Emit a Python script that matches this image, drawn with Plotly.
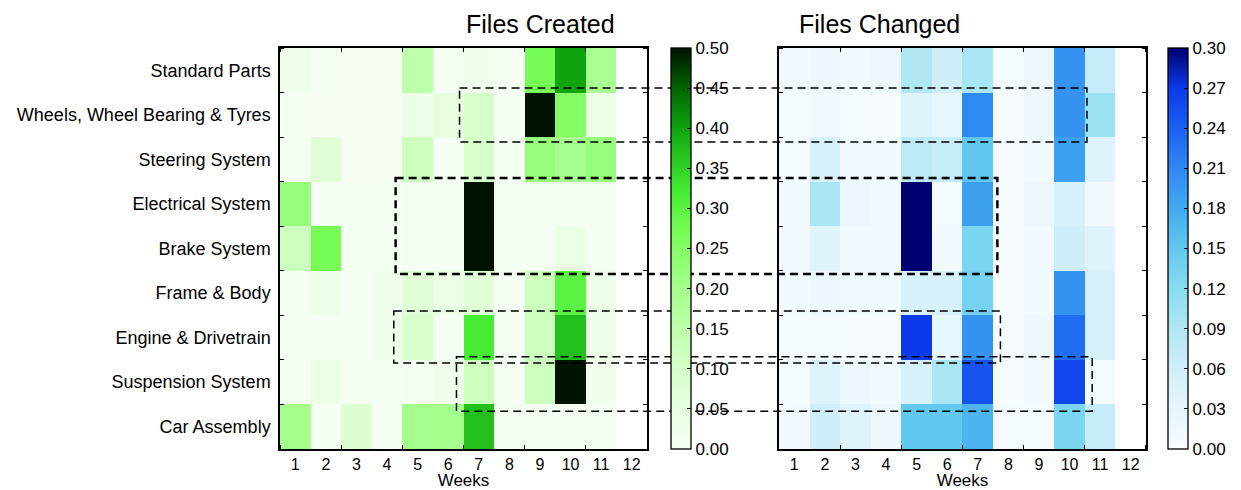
import plotly.graph_objects as go

weeks = list(range(1, 13))
components = ["Standard Parts", "Wheels, Wheel Bearing & Tyres", "Steering System",
              "Electrical System", "Brake System", "Frame & Body",
              "Engine & Drivetrain", "Suspension System", "Car Assembly"]

# week 12 has no data (blank cells)
created_standard = [0.02, 0.005, 0, 0, 0.15, 0.005, 0.02, 0.01, 0.27, 0.40, 0.19, None]
created_wheels = [0.005, 0, 0, 0, 0.03, 0.05, 0.10, 0.005, 0.50, 0.25, 0.04, None]
created_steering = [0.01, 0.07, 0, 0, 0.12, 0.005, 0.10, 0.01, 0.22, 0.20, 0.22, None]
created_electrical = [0.22, 0.005, 0.005, 0.005, 0.01, 0.01, 0.50, 0.01, 0.01, 0.01, 0.01, None]
created_brake = [0.12, 0.27, 0.005, 0.005, 0.01, 0.01, 0.50, 0.005, 0.005, 0.04, 0.01, None]
created_frame = [0.01, 0.03, 0.005, 0.02, 0.07, 0.04, 0.07, 0.005, 0.12, 0.30, 0.03, None]
created_engine = [0.01, 0.005, 0.005, 0.02, 0.09, 0.01, 0.32, 0.005, 0.12, 0.37, 0.03, None]
created_suspension = [0.01, 0.04, 0.01, 0.005, 0.01, 0.02, 0.12, 0.005, 0.12, 0.50, 0.02, None]
created_assembly = [0.20, 0.005, 0.08, 0.005, 0.20, 0.20, 0.37, 0.01, 0.01, 0.01, 0.01, None]

changed_standard = [0.01, 0.02, 0.01, 0.02, 0.09, 0.06, 0.095, 0.005, 0.02, 0.20, 0.07, None]
changed_wheels = [0.005, 0.01, 0.005, 0.003, 0.04, 0.03, 0.21, 0.003, 0.02, 0.20, 0.105, None]
changed_steering = [0.005, 0.05, 0.01, 0.01, 0.08, 0.07, 0.15, 0.003, 0.01, 0.19, 0.04, None]
changed_electrical = [0.01, 0.095, 0.02, 0.01, 0.30, 0.005, 0.19, 0.003, 0.02, 0.05, 0.01, None]
changed_brake = [0.015, 0.04, 0.01, 0.01, 0.30, 0.01, 0.13, 0.003, 0.01, 0.06, 0.04, None]
changed_frame = [0.01, 0.02, 0.015, 0.01, 0.05, 0.05, 0.135, 0.003, 0.01, 0.20, 0.05, None]
changed_engine = [0.005, 0.005, 0.003, 0.003, 0.27, 0.03, 0.20, 0.003, 0.02, 0.23, 0.05, None]
changed_suspension = [0.005, 0.04, 0.02, 0.01, 0.05, 0.095, 0.25, 0.003, 0.01, 0.26, 0.005, None]
changed_assembly = [0.01, 0.06, 0.04, 0.02, 0.15, 0.15, 0.17, 0.005, 0.005, 0.13, 0.07, None]

created = [created_standard, created_wheels, created_steering, created_electrical, created_brake,
           created_frame, created_engine, created_suspension, created_assembly]
changed = [changed_standard, changed_wheels, changed_steering, changed_electrical, changed_brake,
           changed_frame, changed_engine, changed_suspension, changed_assembly]

green_ticks = [i * 0.05 for i in range(11)]
blue_ticks = [i * 0.03 for i in range(11)]

# highlight boxes: (left-plot week start, right-plot week end, row top, row bottom, line width)
boxes = [(6.37, 10.57, 0.40, 1.61, 1.5),
         (4.28, 7.64, 2.42, 4.57, 2.5),
         (4.22, 7.74, 5.40, 6.57, 1.5),
         (6.27, 10.74, 6.43, 7.65, 1.5)]

green_scale = [[0.0, "#f7fff5"], [0.2, "#d6ffca"], [0.4, "#a4ff8c"], [0.55, "#74fc52"],
               [0.65, "#42ea32"], [0.8, "#0fa30f"], [0.9, "#006400"], [1.0, "#001200"]]
blue_scale = [[0.0, "#f7fcff"], [0.1, "#e6f6fd"], [0.2, "#d0eefa"], [0.3, "#b0e7f3"],
              [0.4, "#88dcf0"], [0.5, "#62c8f0"], [0.6, "#42aaee"], [0.7, "#3088f2"],
              [0.8, "#1a60f2"], [0.9, "#0a3aea"], [1.0, "#000070"]]

FONT = "Liberation Sans, Arial, sans-serif"
L_DOM = [0.0, 0.4238]
R_DOM = [0.5762, 1.0]
rows = list(range(len(components)))

cb_common = dict(y=0.5, yanchor="middle", len=1, lenmode="fraction",
                 thickness=20, xpad=0, ypad=0, outlinecolor="black", outlinewidth=1.3,
                 ticks="inside", ticklen=4, tickcolor="black",
                 tickfont=dict(family=FONT, size=17, color="black"))

fig = go.Figure()
fig.add_trace(go.Heatmap(
    z=created, x=weeks, y=rows, zmin=0, zmax=0.5, colorscale=green_scale,
    xaxis="x", yaxis="y", hoverongaps=False,
    colorbar=dict(x=0.4515, xanchor="left",
                  tickvals=green_ticks, ticktext=[f"{v:.2f}" for v in green_ticks], **cb_common)))
fig.add_trace(go.Heatmap(
    z=changed, x=weeks, y=rows, zmin=0, zmax=0.3, colorscale=blue_scale,
    xaxis="x2", yaxis="y2", hoverongaps=False,
    colorbar=dict(x=1.0254, xanchor="left",
                  tickvals=blue_ticks, ticktext=[f"{v:.2f}" for v in blue_ticks], **cb_common)))

xcommon = dict(range=[0.5, 12.5], tickvals=weeks, ticktext=[str(w) for w in weeks],
               ticks="", showline=True, linecolor="black", linewidth=1.5, mirror="ticks",
               showgrid=False, zeroline=False,
               tickfont=dict(family=FONT, size=16, color="black"),
               title=dict(text="Weeks", font=dict(family=FONT, size=17, color="black"), standoff=1),
               minor=dict(ticks="inside", tick0=0.5, dtick=2, ticklen=4, tickcolor="black", showgrid=False))
ycommon = dict(range=[8.5, -0.5], showline=True, linecolor="black", linewidth=1.5, mirror="ticks",
               showgrid=False, zeroline=False, ticks="",
               tickfont=dict(family=FONT, size=18, color="black"),
               minor=dict(ticks="inside", tick0=0.5, dtick=1, ticklen=4, tickcolor="black", showgrid=False))

fig.update_layout(
    width=1241, height=490,
    margin=dict(l=280, r=95, t=48, b=41, autoexpand=False),
    paper_bgcolor="white", plot_bgcolor="white",
    xaxis=dict(domain=L_DOM, anchor="y", **xcommon),
    xaxis2=dict(domain=R_DOM, anchor="y2", **xcommon),
    yaxis=dict(domain=[0, 1], anchor="x", tickvals=rows, ticktext=components, ticklabelstandoff=4, **ycommon),
    yaxis2=dict(domain=[0, 1], anchor="x2", tickvals=rows, showticklabels=False, **ycommon),
    showlegend=False,
)

fig.add_annotation(text="Files Created", xref="paper", yref="paper",
                   x=(L_DOM[0] + L_DOM[1]) / 2, y=1.0, yshift=40, showarrow=False,
                   font=dict(family=FONT, size=25, color="black"))
fig.add_annotation(text="Files Changed", xref="paper", yref="paper",
                   x=(R_DOM[0] + R_DOM[1]) / 2, y=1.0, yshift=40, showarrow=False,
                   font=dict(family=FONT, size=25, color="black"))


def to_paper(dom, wk):
    return dom[0] + (wk - 0.5) / 12 * (dom[1] - dom[0])


for x0, x1, y0, y1, w in boxes:
    fig.add_shape(type="rect", xref="paper", yref="y",
                  x0=to_paper(L_DOM, x0), x1=to_paper(R_DOM, x1), y0=y0, y1=y1,
                  line=dict(color="black", width=w, dash="8px,5px"),
                  fillcolor="rgba(0,0,0,0)", layer="above")

fig.write_html("out.html", config={"displayModeBar": False},
               post_script="document.body.style.margin='0px';")
